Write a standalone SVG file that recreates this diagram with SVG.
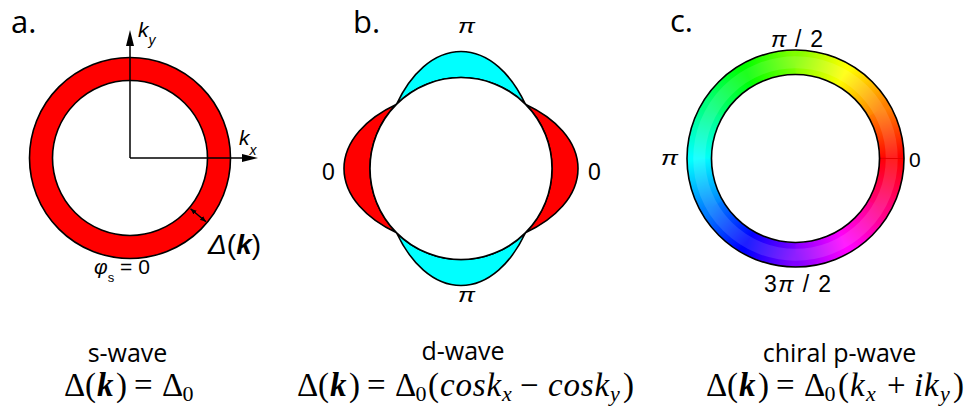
<svg xmlns="http://www.w3.org/2000/svg" width="975" height="415" viewBox="0 0 975 415">
<style>
.lbl{font-family:"Open Sans","Liberation Sans",sans-serif;font-size:31px;fill:#000}
.cap{font-family:"Open Sans","Liberation Sans",sans-serif;font-size:25px;fill:#000;text-anchor:middle}
.ar{font-family:"Liberation Sans",Arial,sans-serif;fill:#000}
.it{font-style:italic}
.math{font-family:"Liberation Serif","DejaVu Serif",serif;font-size:33px;fill:#000}
.bi{font-weight:bold;font-style:italic}
.sub{font-size:22px}
.edge{stroke:#000;stroke-width:1.6}
.axis{stroke:#000;stroke-width:1.5;fill:none}
</style>
<defs>
<marker id="axhead" markerUnits="userSpaceOnUse" markerWidth="18" markerHeight="10" refX="6" refY="4" orient="auto">
<path d="M0,0 L16,4 L0,8 Z" fill="#000"/>
</marker>
<marker id="smallhead" markerUnits="userSpaceOnUse" markerWidth="8" markerHeight="6" refX="6" refY="2.5" orient="auto-start-reverse">
<path d="M0,0 L6,2.5 L0,5 Z" fill="#000"/>
</marker>
<path id="lobe" d="M64.35,-64.35 A137,81.66 0 0 1 64.35,64.35 A91,91 0 0 0 64.35,-64.35 Z"/>
<path id="wedge" d="M108.5,0 A108.5,108.5 0 0 0 93.00,-55.88 L72.00,-43.26 A84,84 0 0 1 84,0 Z"/>
<linearGradient id="g0" gradientUnits="userSpaceOnUse" x1="96.25" y1="0" x2="83.36" y2="-48.13"><stop offset="0" stop-color="#ff0000"/><stop offset="1" stop-color="#ff8000"/></linearGradient>
<linearGradient id="g1" gradientUnits="userSpaceOnUse" x1="96.25" y1="0" x2="83.36" y2="-48.13"><stop offset="0" stop-color="#ff8000"/><stop offset="1" stop-color="#ffff00"/></linearGradient>
<linearGradient id="g2" gradientUnits="userSpaceOnUse" x1="96.25" y1="0" x2="83.36" y2="-48.13"><stop offset="0" stop-color="#ffff00"/><stop offset="1" stop-color="#80ff00"/></linearGradient>
<linearGradient id="g3" gradientUnits="userSpaceOnUse" x1="96.25" y1="0" x2="83.36" y2="-48.13"><stop offset="0" stop-color="#80ff00"/><stop offset="1" stop-color="#00ff00"/></linearGradient>
<linearGradient id="g4" gradientUnits="userSpaceOnUse" x1="96.25" y1="0" x2="83.36" y2="-48.13"><stop offset="0" stop-color="#00ff00"/><stop offset="1" stop-color="#00ff80"/></linearGradient>
<linearGradient id="g5" gradientUnits="userSpaceOnUse" x1="96.25" y1="0" x2="83.36" y2="-48.13"><stop offset="0" stop-color="#00ff80"/><stop offset="1" stop-color="#00ffff"/></linearGradient>
<linearGradient id="g6" gradientUnits="userSpaceOnUse" x1="96.25" y1="0" x2="83.36" y2="-48.13"><stop offset="0" stop-color="#00ffff"/><stop offset="1" stop-color="#0080ff"/></linearGradient>
<linearGradient id="g7" gradientUnits="userSpaceOnUse" x1="96.25" y1="0" x2="83.36" y2="-48.13"><stop offset="0" stop-color="#0080ff"/><stop offset="1" stop-color="#0000ff"/></linearGradient>
<linearGradient id="g8" gradientUnits="userSpaceOnUse" x1="96.25" y1="0" x2="83.36" y2="-48.13"><stop offset="0" stop-color="#0000ff"/><stop offset="1" stop-color="#8000ff"/></linearGradient>
<linearGradient id="g9" gradientUnits="userSpaceOnUse" x1="96.25" y1="0" x2="83.36" y2="-48.13"><stop offset="0" stop-color="#8000ff"/><stop offset="1" stop-color="#ff00ff"/></linearGradient>
<linearGradient id="g10" gradientUnits="userSpaceOnUse" x1="96.25" y1="0" x2="83.36" y2="-48.13"><stop offset="0" stop-color="#ff00ff"/><stop offset="1" stop-color="#ff0080"/></linearGradient>
<linearGradient id="g11" gradientUnits="userSpaceOnUse" x1="96.25" y1="0" x2="83.36" y2="-48.13"><stop offset="0" stop-color="#ff0080"/><stop offset="1" stop-color="#ff0000"/></linearGradient>
</defs>
<rect width="975" height="415" fill="#fff"/>

<g id="panel-a">
<text class="lbl" x="11" y="33">a.</text>
<circle cx="130" cy="158" r="100.5" fill="#ff0000" class="edge"/>
<circle cx="130" cy="158" r="77.5" fill="#fff" class="edge"/>
<g id="axes-a">
<line class="axis" x1="130" y1="158" x2="130" y2="40" marker-end="url(#axhead)"/>
<line class="axis" x1="130" y1="158" x2="248" y2="158" marker-end="url(#axhead)"/>
<line class="axis" x1="190.5" y1="208.7" x2="206" y2="221.8" stroke-width="1.3" marker-start="url(#smallhead)" marker-end="url(#smallhead)"/>
</g>
<text class="ar it" x="138" y="37" font-size="21">k<tspan font-size="14" dy="8">y</tspan></text>
<text class="ar it" x="239" y="145" font-size="21">k<tspan font-size="14" dy="10">x</tspan></text>
<text class="ar" x="208" y="254" font-size="28"><tspan class="it">Δ</tspan>(<tspan class="bi">k</tspan>)</text>
<text class="ar" x="94" y="274" font-size="21"><tspan class="it">φ</tspan><tspan font-size="13" dy="8">s</tspan><tspan dy="-8"> = 0</tspan></text>
</g>

<g id="panel-b">
<text class="lbl" x="353" y="33">b.</text>
<g transform="translate(461,168.5)">
<use href="#lobe" fill="#ff0000" class="edge"/>
<use href="#lobe" fill="#ff0000" class="edge" transform="rotate(180)"/>
<use href="#lobe" fill="#00ffff" class="edge" transform="rotate(90)"/>
<use href="#lobe" fill="#00ffff" class="edge" transform="rotate(270)"/>
<circle r="91" fill="#fff" class="edge"/>
</g>
<text class="ar it" x="458" y="33" font-size="21" textLength="17" lengthAdjust="spacingAndGlyphs">π</text>
<text class="ar it" x="458" y="302" font-size="21" textLength="17" lengthAdjust="spacingAndGlyphs">π</text>
<text class="ar" x="322" y="180" font-size="23">0</text>
<text class="ar" x="588" y="180" font-size="23">0</text>
</g>

<g id="panel-c">
<text class="lbl" x="670" y="32">c.</text>
<g transform="translate(795.5,158.5)">
<use href="#wedge" fill="url(#g0)"/>
<use href="#wedge" fill="url(#g1)" transform="rotate(-30)"/>
<use href="#wedge" fill="url(#g2)" transform="rotate(-60)"/>
<use href="#wedge" fill="url(#g3)" transform="rotate(-90)"/>
<use href="#wedge" fill="url(#g4)" transform="rotate(-120)"/>
<use href="#wedge" fill="url(#g5)" transform="rotate(-150)"/>
<use href="#wedge" fill="url(#g6)" transform="rotate(-180)"/>
<use href="#wedge" fill="url(#g7)" transform="rotate(-210)"/>
<use href="#wedge" fill="url(#g8)" transform="rotate(-240)"/>
<use href="#wedge" fill="url(#g9)" transform="rotate(-270)"/>
<use href="#wedge" fill="url(#g10)" transform="rotate(-300)"/>
<use href="#wedge" fill="url(#g11)" transform="rotate(-330)"/>
<circle r="96.25" fill="none" stroke="#fff" stroke-opacity="0.12" stroke-width="12"/>
<line x1="84" y1="0" x2="108.5" y2="0" stroke="#e60000" stroke-width="1"/>
<circle r="108.5" fill="none" class="edge"/>
<circle r="84" fill="#fff" class="edge"/>
</g>
<text class="ar" x="771" y="47" font-size="23" textLength="52"><tspan class="it">π</tspan> / 2</text>
<text class="ar it" x="661" y="165" font-size="21" textLength="17" lengthAdjust="spacingAndGlyphs">π</text>
<text class="ar" x="909" y="167" font-size="21">0</text>
<text class="ar" x="764" y="292" font-size="23" textLength="67">3<tspan class="it">π</tspan> / 2</text>
</g>

<g id="captions">
<text class="cap" x="127.5" y="362">s-wave</text>
<text class="math" y="396"><tspan x="64">Δ</tspan><tspan x="85">(</tspan><tspan x="97" class="bi">k</tspan><tspan x="116">)</tspan><tspan x="134">=</tspan><tspan x="162">Δ</tspan><tspan x="182.5" class="sub" dy="5">0</tspan></text>

<text class="cap" x="463" y="360">d-wave</text>
<text class="math" y="396"><tspan x="297">Δ</tspan><tspan x="318">(</tspan><tspan x="330" class="bi">k</tspan><tspan x="349">)</tspan><tspan x="367">=</tspan><tspan x="395">Δ</tspan><tspan x="415.5" class="sub" dy="5">0</tspan><tspan x="428" dy="-5">(</tspan><tspan x="440" class="it" letter-spacing="0.8">cosk</tspan><tspan x="502" class="sub it" dy="5">x</tspan><tspan x="520" dy="-5">−</tspan><tspan x="548" class="it" letter-spacing="0.8">cosk</tspan><tspan x="610" class="sub it" dy="5">y</tspan><tspan x="623" dy="-5">)</tspan></text>

<text class="cap" x="839.5" y="362">chiral p-wave</text>
<text class="math" y="396"><tspan x="706">Δ</tspan><tspan x="727">(</tspan><tspan x="739" class="bi">k</tspan><tspan x="758">)</tspan><tspan x="776">=</tspan><tspan x="804">Δ</tspan><tspan x="824.5" class="sub" dy="5">0</tspan><tspan x="838" dy="-5">(</tspan><tspan x="850" class="it">k</tspan><tspan x="866" class="sub it" dy="5">x</tspan><tspan x="887" dy="-5">+</tspan><tspan x="914" class="it">i</tspan><tspan x="924" class="it">k</tspan><tspan x="940" class="sub it" dy="5">y</tspan><tspan x="953" dy="-5">)</tspan></text>
</g>
</svg>
